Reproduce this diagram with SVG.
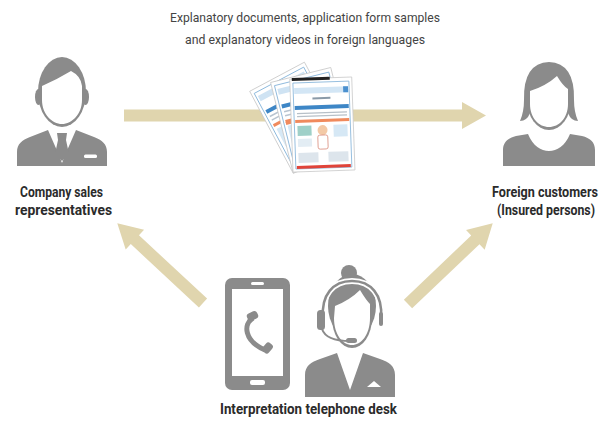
<svg xmlns="http://www.w3.org/2000/svg" xmlns:xlink="http://www.w3.org/1999/xlink" width="613" height="423" viewBox="0 0 613 423">
  <style>
    .arrow { fill: #e0d5ae; }
    .icon { fill: #8b8b8b; }
    .hole { fill: #ffffff; }
    .label { font-family: Roboto, "Liberation Sans", sans-serif; font-weight: 700; font-size: 14.5px; fill: #2b2b2b; text-anchor: middle; }
    .caption { font-family: Roboto, "Liberation Sans", sans-serif; font-weight: 400; font-size: 13.5px; fill: #444444; text-anchor: middle; }
    .sheet { fill: #ffffff; stroke: #c9c9c9; stroke-width: 0.8; }
  </style>
  <defs>
    <!-- block arrow pointing along +x, tail at origin -->
    <polygon id="diag" points="0,-6 93,-6 93,-13.5 117,0 93,13.5 93,6 0,6"/>
    <!-- generic page used for the fanned documents -->
    <g id="page">
      <rect class="sheet" x="0" y="0" width="62" height="93"/>
      <rect x="3" y="4" width="56" height="85" fill="none" stroke="#7fb0d8" stroke-width="0.8"/>
      <rect x="5" y="8" width="52" height="6" fill="#cfe3f3"/>
      <rect x="5" y="24" width="52" height="4" fill="#3d86c6"/>
      <rect x="6" y="31" width="30" height="1.5" fill="#b8c4d0"/>
      <rect x="6" y="35" width="48" height="1.5" fill="#b8c4d0"/>
      <rect x="5" y="40" width="52" height="3" fill="#f08a5d"/>
      <rect x="6" y="46" width="16" height="20" fill="#d6e8f5"/>
      <rect x="40" y="46" width="15" height="20" fill="#e2eef7"/>
      <rect x="6" y="70" width="22" height="12" fill="#dde6ee"/>
      <rect x="33" y="70" width="22" height="12" fill="#dde6ee"/>
    </g>
  </defs>

  <!-- connectors -->
  <g id="connectors">
    <polygon class="arrow" points="124,109.5 462,109.5 462,102 486,115.5 462,129 462,121.5 124,121.5"/>
    <use xlink:href="#diag" class="arrow" transform="translate(203,303) rotate(-137.1)"/>
    <use xlink:href="#diag" class="arrow" transform="translate(408,304) rotate(-43.6)"/>
  </g>

  <!-- caption above the documents -->
  <g id="caption">
    <text class="caption" x="305" y="22" textLength="270" lengthAdjust="spacingAndGlyphs">Explanatory documents, application form samples</text>
    <text class="caption" x="305" y="44" textLength="240" lengthAdjust="spacingAndGlyphs">and explanatory videos in foreign languages</text>
  </g>

  <!-- fanned documents -->
  <g id="documents">
    <g transform="rotate(-28 296 172) translate(293 79)">
      <use xlink:href="#page"/>
    </g>
    <g transform="rotate(-14 296 172) translate(293 79)">
      <use xlink:href="#page"/>
      <rect x="5" y="42" width="14" height="3" fill="#f08a5d"/>
    </g>
    <g transform="rotate(-2 296 172) translate(293 79)">
      <rect class="sheet" x="0" y="0" width="62" height="93"/>
      <rect x="2" y="-1" width="38" height="3" fill="#222222"/>
      <rect x="3" y="4" width="56" height="86" fill="none" stroke="#7fb0d8" stroke-width="0.8"/>
      <rect x="4" y="9" width="54" height="6" fill="#d3e6f5"/>
      <rect x="53" y="9" width="5" height="6" fill="#4a90cf"/>
      <rect x="22" y="19" width="18" height="2" fill="#8a9aa8"/>
      <rect x="4" y="27" width="54" height="4" fill="#3d86c6"/>
      <rect x="6" y="34" width="50" height="1.4" fill="#b7c0c8"/>
      <rect x="6" y="37" width="50" height="1.4" fill="#b7c0c8"/>
      <rect x="4" y="41" width="54" height="3" fill="#f08a5d"/>
      <rect x="6" y="47" width="14" height="10" fill="#9fd0c8"/>
      <rect x="42" y="47" width="14" height="12" fill="#d6e8f5"/>
      <circle cx="31" cy="52" r="5" fill="#f3c9a6"/>
      <rect x="26" y="57" width="10" height="14" rx="2" fill="#ffffff" stroke="#d98a7a" stroke-width="0.8"/>
      <rect x="6" y="60" width="14" height="8" fill="#e3edf4"/>
      <rect x="6" y="74" width="20" height="10" fill="#dde5ec"/>
      <rect x="36" y="74" width="20" height="10" fill="#dde5ec"/>
      <rect x="4" y="87" width="54" height="3" fill="#e0443a"/>
    </g>
  </g>

  <!-- company sales representative -->
  <g id="sales-rep">
    <ellipse class="icon" cx="38.5" cy="97" rx="3.5" ry="8"/>
    <ellipse class="icon" cx="85.5" cy="97" rx="3.5" ry="8"/>
    <ellipse class="icon" cx="62" cy="92" rx="24" ry="35"/>
    <path class="hole" d="M42,86 Q56,80 71,71 Q81,76 82,86 L82,100 C82,114 72,124 62,124 C52,124 42,114 42,100 Z"/>
    <path class="icon" d="M17,166 L17,152 C17,144 22,140 30,137 L48,130 L62,162 L76,130 L94,137 C102,140 107,144 107,152 L107,166 Z"/>
    <path class="hole" d="M50,131 L62,163 L74,131 Z"/>
    <path class="icon" d="M57,133 L67,133 L66,140 L69,154 L62,161 L55,154 L58,140 Z"/>
    <rect class="hole" x="84" y="154.5" width="13" height="3.5" rx="1.5"/>
    <text class="label" x="61.5" y="197" textLength="83" lengthAdjust="spacingAndGlyphs">Company sales</text>
    <text class="label" x="63.5" y="215" textLength="97" lengthAdjust="spacingAndGlyphs">representatives</text>
  </g>

  <!-- foreign customer -->
  <g id="customer">
    <ellipse class="icon" cx="549" cy="100" rx="22" ry="30"/>
    <path class="icon" d="M520,121 Q524,112 524,100 Q523,63 549,62 Q575,63 574,100 Q574,112 578,121 Q571,121 568,113 L530,113 Q527,121 520,121 Z"/>
    <path class="hole" d="M530,91 Q546,86 557,76 Q563,86 568,89 L568,104 C568,118 559,127 549,127 C539,127 530,118 530,104 Z"/>
    <path class="icon" d="M503,166 L503,150 C503,142 508,138 516,136 L528,134 C533,146 541,151 549,151 C557,151 565,146 570,134 L582,136 C590,138 595,142 595,150 L595,166 Z"/>
    <text class="label" x="545" y="197" textLength="106" lengthAdjust="spacingAndGlyphs">Foreign customers</text>
    <text class="label" x="546" y="215" textLength="98" lengthAdjust="spacingAndGlyphs">(Insured persons)</text>
  </g>

  <!-- interpretation telephone desk -->
  <g id="phone-desk">
    <!-- smartphone -->
    <rect class="icon" x="225" y="278" width="65" height="112" rx="7"/>
    <rect class="hole" x="232" y="289" width="51" height="87"/>
    <rect class="hole" x="251" y="282" width="13" height="3" rx="1.5"/>
    <rect class="hole" x="250" y="380" width="15" height="5" rx="2"/>
    <path d="M253,318 C243,324 244,341 265,350" fill="none" stroke="#8b8b8b" stroke-width="5"/>
    <rect class="icon" x="247" y="312" width="11" height="8" rx="3" transform="rotate(-25 252.5 316)"/>
    <rect class="icon" x="262" y="344" width="11" height="8" rx="3" transform="rotate(-50 267.5 348)"/>
    <!-- operator with headset -->
    <circle class="icon" cx="349" cy="273" r="8"/>
    <ellipse class="icon" cx="352" cy="318" rx="20" ry="30"/>
    <ellipse class="icon" cx="352" cy="306" rx="24" ry="32"/>
    <path class="hole" d="M335,306 Q350,300 360,290 Q366,300 370,304 L370,318 C370,335 361,345 352,345 C343,345 334,335 334,318 Z"/>
    <path d="M323,318 C321,295 333,281 352,281 C371,281 383,295 381,318" fill="none" stroke="#ffffff" stroke-width="6"/>
    <path d="M323,318 C321,295 333,281 352,281 C371,281 383,295 381,318" fill="none" stroke="#8b8b8b" stroke-width="2.5"/>
    <rect class="icon" x="317" y="310" width="8" height="20" rx="3.5"/>
    <rect class="icon" x="379" y="312" width="4" height="14" rx="2"/>
    <path d="M322,329 C325,338 335,341 350,341" fill="none" stroke="#8b8b8b" stroke-width="2"/>
    <rect class="icon" x="346" y="338" width="11" height="5" rx="2.5"/>
    <path class="icon" d="M305,397 L305,375 C305,366 311,362 320,359 L337,353 L350,390 L363,353 L380,359 C389,362 395,366 395,375 L395,397 Z"/>
    <path class="hole" d="M367,387 L374,381 L381,387 Z"/>
    <text class="label" x="308.5" y="414" textLength="177" lengthAdjust="spacingAndGlyphs">Interpretation telephone desk</text>
  </g>
</svg>
